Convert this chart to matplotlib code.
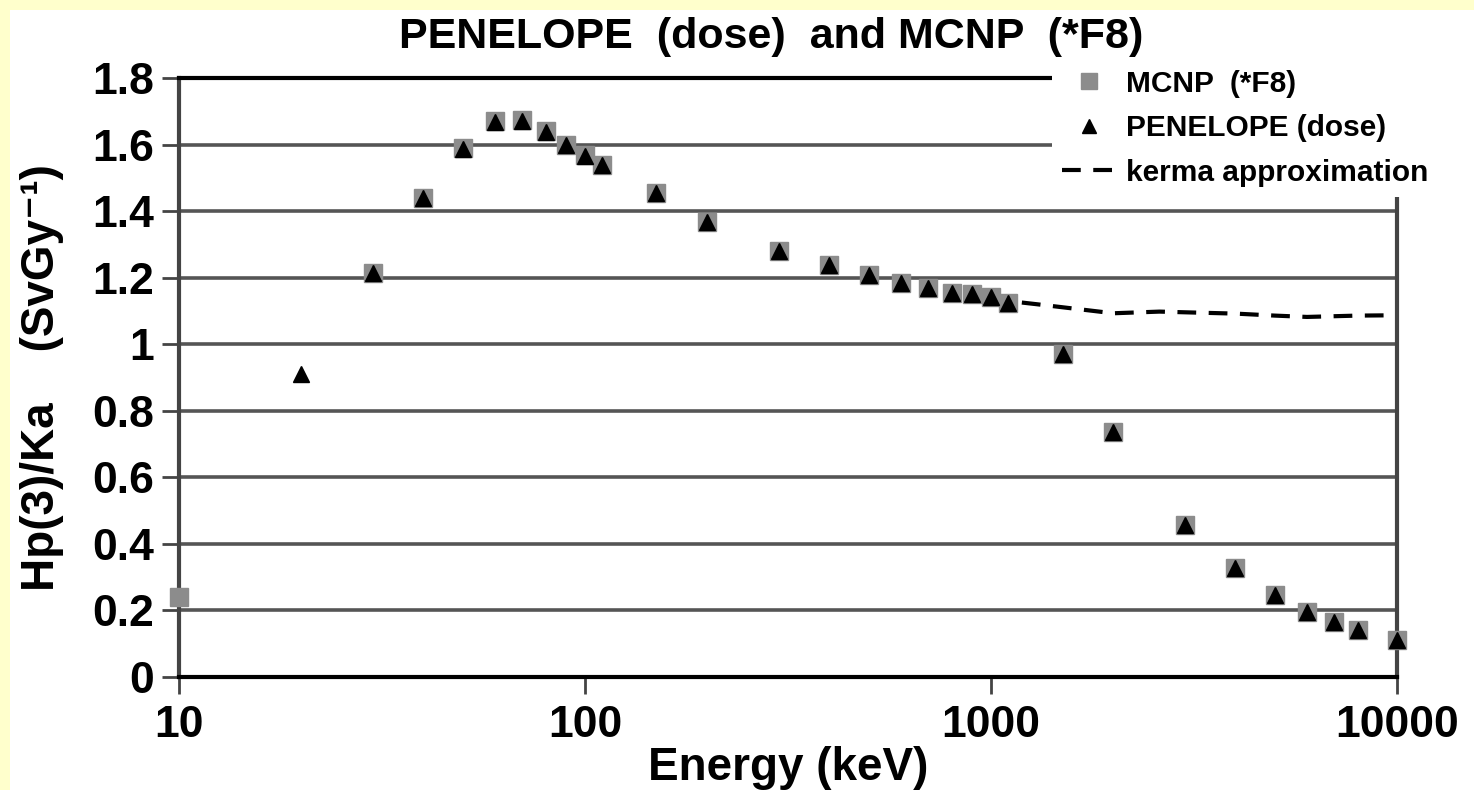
import matplotlib.pyplot as plt
from matplotlib.patches import Rectangle

# Hp(3)/Ka conversion coefficients
penelope_e = [20, 30, 40, 50, 60, 70, 80, 90, 100, 110, 150, 200, 300, 400, 500,
              600, 700, 800, 900, 1000, 1100, 1500, 2000, 3000, 4000, 5000, 6000,
              7000, 8000, 10000]
penelope_h = [0.91, 1.215, 1.44, 1.588, 1.667, 1.67, 1.637, 1.60, 1.565, 1.538, 1.453,
              1.366, 1.28, 1.237, 1.207, 1.184, 1.17, 1.153, 1.15, 1.143, 1.125, 0.972,
              0.735, 0.458, 0.327, 0.246, 0.196, 0.166, 0.141, 0.111]

mcnp_e = [10, 30, 40, 50, 60, 70, 80, 90, 100, 110, 150, 200, 300, 400, 500,
          600, 700, 800, 900, 1000, 1100, 1500, 2000, 3000, 4000, 5000, 6000,
          7000, 8000, 10000]
mcnp_h = [0.24, 1.215, 1.44, 1.59, 1.672, 1.675, 1.64, 1.60, 1.568, 1.54, 1.455,
          1.366, 1.28, 1.237, 1.207, 1.184, 1.17, 1.153, 1.15, 1.143, 1.125, 0.972,
          0.735, 0.458, 0.327, 0.246, 0.196, 0.166, 0.141, 0.111]

kerma_e = [1000, 1100, 1300, 1600, 2000, 2600, 3200, 4000, 5000, 6000, 8000, 10000]
kerma_h = [1.14, 1.13, 1.12, 1.107, 1.093, 1.098, 1.095, 1.092, 1.086, 1.082, 1.086, 1.087]

yticks = [0, 0.2, 0.4, 0.6, 0.8, 1, 1.2, 1.4, 1.6, 1.8]
ytick_labels = ['0', '0.2', '0.4', '0.6', '0.8', '1', '1.2', '1.4', '1.6', '1.8']
xticks = [10, 100, 1000, 10000]
xtick_labels = ['10', '100', '1000', '10000']

plt.rcParams['font.family'] = ['Liberation Sans', 'DejaVu Sans']
plt.rcParams['font.weight'] = 'bold'

fig = plt.figure(figsize=(14.74, 7.9), dpi=100, facecolor='#FFFFCC')
fig.patches.append(Rectangle((10 / 1474, 0), 1, 1 - 10 / 790, transform=fig.transFigure,
                             facecolor='white', edgecolor='none', zorder=-10))
ax = fig.add_axes([0.1214, 0.1430, 0.9478 - 0.1214, 0.9013 - 0.1430])
ax.set_facecolor('white')

ax.set_xscale('log')
ax.set_xlim(10, 10000)
ax.set_ylim(0, 1.8)

for y in yticks[1:-1]:
    ax.axhline(y, color='#555555', lw=2.6, zorder=1)

ax.plot(kerma_e, kerma_h, color='black', lw=3, dashes=(4.5, 3), zorder=2,
        label='kerma approximation')
ax.plot(mcnp_e, mcnp_h, ls='none', marker='s', ms=13, color='#8c8c8c', mec='#8c8c8c',
        clip_on=False, zorder=3, label='MCNP  (*F8)')
ax.plot(penelope_e, penelope_h, ls='none', marker='^', ms=11.5, color='black',
        clip_on=False, zorder=4, label='PENELOPE (dose)')

for side in ['left', 'right']:
    ax.spines[side].set_color('#444444')
    ax.spines[side].set_linewidth(3)
for side in ['top', 'bottom']:
    ax.spines[side].set_color('black')
    ax.spines[side].set_linewidth(3)

ax.set_yticks(yticks)
ax.set_yticklabels(ytick_labels)
ax.set_xticks(xticks)
ax.set_xticklabels(xtick_labels)
ax.minorticks_off()
ax.tick_params(axis='both', direction='out', length=12, width=2, color='#444444',
               labelsize=32, pad=6)
ax.tick_params(axis='x', pad=8)

ax.set_xlabel('Energy (keV)', fontsize=33, fontweight='bold', labelpad=0)
ax.set_ylabel('Hp(3)/Ka    (SvGy\u207b\u00b9)', fontsize=33, fontweight='bold', labelpad=20)
fig.text(0.523, 0.953, 'PENELOPE  (dose)  and MCNP  (*F8)', fontsize=31,
         fontweight='bold', ha='center', va='center')

h, l = ax.get_legend_handles_labels()
leg = fig.legend([h[1], h[2], h[0]], [l[1], l[2], l[0]], loc='upper left',
                 bbox_to_anchor=(1052 / 1474, 1 - 60 / 790), frameon=True,
                 facecolor='white', edgecolor='none', fancybox=False,
                 prop={'size': 21.5, 'weight': 'bold'}, handlelength=1.85,
                 handletextpad=0.3, labelspacing=0.55, borderpad=0.33,
                 borderaxespad=0, markerscale=0.85)
leg.set_zorder(10)
leg.get_frame().set_alpha(1)

fig.savefig('out.png', dpi=100, facecolor=fig.get_facecolor())
